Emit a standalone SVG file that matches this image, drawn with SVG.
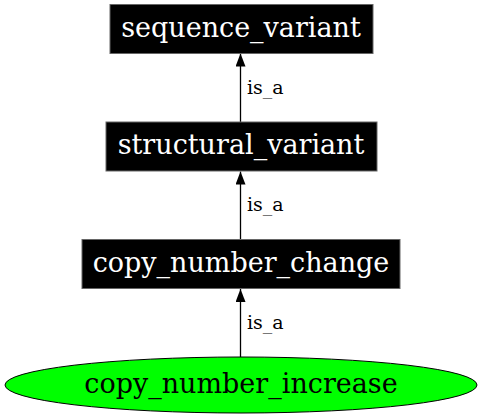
<svg xmlns="http://www.w3.org/2000/svg" width="483" height="419" viewBox="0 0 483 419">
<style>
.box{fill:#000;stroke:#666;stroke-width:1}
.nt{font-family:"DejaVu Serif",serif;font-size:27px;fill:#fff;text-anchor:middle}
.el{fill:#00ff00;stroke:#000;stroke-width:1}
.et{font-family:"DejaVu Serif",serif;font-size:27px;fill:#000;text-anchor:middle}
.edge{stroke:#000;stroke-width:1.3;fill:none}
.lab{font-family:"DejaVu Serif",serif;font-size:19px;fill:#000}
</style>
<defs>
<marker id="ah" viewBox="0 0 13 10" refX="13" refY="5" markerWidth="13" markerHeight="10" markerUnits="userSpaceOnUse" orient="auto">
<path d="M0,0 L13,5 L0,10 z" fill="#000"/>
</marker>
</defs>
<g id="edges">
<line class="edge" x1="240.5" y1="122" x2="240.5" y2="53.5" marker-end="url(#ah)"/>
<text class="lab" x="247" y="94">is_a</text>
<line class="edge" x1="240.5" y1="239" x2="240.5" y2="171.5" marker-end="url(#ah)"/>
<text class="lab" x="247" y="211">is_a</text>
<line class="edge" x1="240.5" y1="357" x2="240.5" y2="289" marker-end="url(#ah)"/>
<text class="lab" x="247" y="329">is_a</text>
</g>
<g id="sequence_variant">
<rect class="box" x="110" y="4.5" width="263" height="49"/>
<text class="nt" x="241" y="37">sequence_variant</text>
</g>
<g id="structural_variant">
<rect class="box" x="106" y="122" width="271" height="49"/>
<text class="nt" x="241" y="154">structural_variant</text>
</g>
<g id="copy_number_change">
<rect class="box" x="82" y="239.5" width="318" height="49"/>
<text class="nt" x="241" y="272">copy_number_change</text>
</g>
<g id="copy_number_increase">
<ellipse class="el" cx="241" cy="385" rx="236" ry="28"/>
<text class="et" x="241" y="393">copy_number_increase</text>
</g>
</svg>
